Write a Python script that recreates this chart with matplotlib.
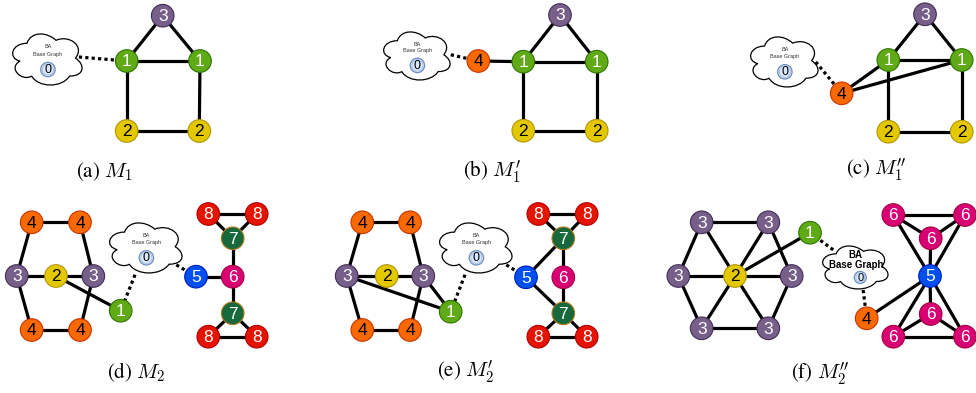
import matplotlib.pyplot as plt
from matplotlib.patches import Circle, PathPatch
from matplotlib.path import Path

plt.rcParams['mathtext.fontset'] = 'cm'

# node colours by label (fill, border)
FILL = {1: '#60a917', 2: '#e3c800', 3: '#76608a', 4: '#fa6800',
        5: '#0050ef', 6: '#d80073', 7: '#17693b', 8: '#e51400'}
EDGE = {1: '#2d7600', 2: '#b09500', 3: '#432d57', 4: '#c73500',
        5: '#001dbc', 6: '#a50040', 7: '#b07a1e', 8: '#b20000'}
DARK_TEXT = {2, 4}

# ---- (a) M1 ----
a_labels = [3, 1, 1, 2, 2]
a_x = [162.7, 126.7, 200.0, 126.7, 199.3]
a_y = [15.7, 61.0, 61.0, 131.0, 131.0]
a_edges = [(0, 1), (0, 2), (1, 2), (1, 3), (2, 4), (3, 4)]
a_cloud = (7.6, 28.4, 77.5, 59.6)
a_links = [(1, 0.92, 0.48)]

# ---- (b) M1' ----
b_labels = [3, 1, 1, 2, 2, 4]
b_x = [560.0, 523.3, 596.7, 523.3, 596.7, 478.3]
b_y = [15.0, 61.7, 61.7, 130.7, 130.7, 61.0]
b_edges = [(0, 1), (0, 2), (1, 2), (1, 3), (2, 4), (3, 4), (5, 1)]
b_cloud = (378.8, 26.7, 74.2, 56.1)
b_links = [(5, 0.97, 0.50)]

# ---- (c) M1'' ----
c_labels = [3, 1, 1, 2, 2, 4]
c_x = [925.0, 888.3, 961.7, 888.3, 961.7, 841.7]
c_y = [14.3, 60.0, 60.0, 131.7, 131.7, 93.3]
c_edges = [(0, 1), (0, 2), (1, 2), (1, 3), (2, 4), (3, 4), (5, 1), (5, 2)]
c_cloud = (745.7, 31.5, 75.3, 58.4)
c_links = [(5, 0.93, 0.52)]

# ---- (d) M2 ----
d_labels = [4, 4, 3, 2, 3, 4, 4, 1, 5, 6, 7, 8, 8, 7, 8, 8]
d_x = [31.7, 80.0, 16.7, 56.0, 93.3, 31.7, 80.0, 120.7,
       196.0, 232.7, 232.7, 208.3, 256.7, 232.7, 208.3, 256.7]
d_y = [222.3, 222.3, 276.0, 276.0, 276.0, 330.0, 330.0, 310.7,
       276.7, 276.7, 238.3, 214.0, 214.0, 313.3, 336.7, 336.7]
d_edges = [(0, 1), (0, 2), (1, 4), (2, 3), (3, 4), (2, 5), (4, 6), (5, 6),
           (3, 7), (8, 9), (9, 10), (9, 13), (10, 11), (10, 12), (11, 12),
           (13, 14), (13, 15), (14, 15)]
d_cloud = (104.3, 217.5, 80.9, 58.4)
d_links = [(7, 0.38, 0.98), (8, 0.89, 0.81)]

# ---- (e) M2' ----
e_labels = [4, 4, 3, 2, 3, 4, 4, 1, 5, 6, 7, 8, 8, 7, 8, 8]
e_x = [362.3, 410.0, 346.7, 386.7, 423.3, 362.3, 410.0, 450.7,
       526.0, 563.3, 563.3, 538.3, 586.7, 563.3, 538.3, 586.7]
e_y = [222.3, 222.3, 276.0, 276.0, 276.0, 330.0, 330.0, 311.7,
       277.3, 277.3, 238.3, 214.0, 214.0, 313.3, 336.7, 336.7]
e_edges = [(0, 1), (0, 2), (1, 4), (2, 3), (3, 4), (2, 5), (4, 6), (5, 6),
           (2, 7), (4, 7), (8, 10), (8, 13), (9, 10), (9, 13), (10, 11),
           (10, 12), (11, 12), (13, 14), (13, 15), (14, 15)]
e_cloud = (434.3, 217.5, 80.9, 58.4)
e_links = [(7, 0.38, 0.98), (8, 0.89, 0.81)]

# ---- (f) M2'' ----
f_labels = [3, 3, 3, 2, 3, 3, 3, 1, 4, 5, 6, 6, 6, 6, 6, 6]
f_x = [701.7, 768.3, 678.3, 735.0, 791.7, 701.7, 768.3, 810.0, 866.7,
       930.0, 893.3, 965.0, 930.7, 930.7, 893.3, 965.0]
f_y = [222.3, 222.3, 276.0, 276.0, 276.0, 328.3, 328.3, 232.7, 318.3,
       276.0, 215.0, 215.0, 238.3, 314.0, 336.7, 336.7]
f_edges = [(0, 1), (1, 4), (4, 6), (6, 5), (5, 2), (2, 0),
           (3, 0), (3, 1), (3, 2), (3, 4), (3, 5), (3, 6), (3, 7), (8, 9),
           (10, 11), (10, 12), (11, 12), (12, 9), (10, 9), (11, 9),
           (9, 13), (9, 14), (9, 15), (14, 13), (15, 13), (14, 15)]
f_cloud = (817.9, 241.3, 73.0, 50.2)
f_links = [(7, 0.21, 0.17), (8, 0.62, 0.97)]

captions = ["(a) $M_1$", "(b) $M_1'$", "(c) $M_1''$",
            "(d) $M_2$", "(e) $M_2'$", "(f) $M_2''$"]
caption_x = [104, 492, 876, 136, 466, 820]
caption_y = [172, 172, 170, 372, 372, 374]

# drawio-style cloud outline in box fractions (y downwards)
CLOUD = [(0.25, 0.25),
         (0.05, 0.25), (0, 0.5), (0.16, 0.55),
         (0, 0.66), (0.18, 0.9), (0.31, 0.8),
         (0.4, 1), (0.7, 1), (0.8, 0.8),
         (1, 0.8), (1, 0.6), (0.875, 0.5),
         (1, 0.3), (0.8, 0.1), (0.625, 0.2),
         (0.5, 0.05), (0.3, 0.05), (0.25, 0.25),
         (0.25, 0.25)]
CODES = [Path.MOVETO] + [Path.CURVE4] * 18 + [Path.CLOSEPOLY]

R = 11.3


def draw_cloud(ax, box, links, xs, ys, bold=False):
    x0, y0, w, h = box
    verts = [(x0 + fx * w, y0 + fy * h) for fx, fy in CLOUD]
    ax.add_patch(PathPatch(Path(verts, CODES), facecolor='white',
                           edgecolor='black', lw=0.9, zorder=2))
    for i, fx, fy in links:
        ax.plot([x0 + fx * w, xs[i]], [y0 + fy * h, ys[i]], color='black',
                lw=2.3, ls=(0, (1, 1)), zorder=1)
    if bold:
        ax.text(x0 + 0.52 * w, y0 + 0.27 * h, 'BA', ha='center', va='center',
                fontsize=7, fontweight='bold', family='Liberation Sans', zorder=3)
        ax.text(x0 + 0.52 * w, y0 + 0.47 * h, 'Base Graph', ha='center',
                va='center', fontsize=7, fontweight='bold',
                family='Liberation Sans', zorder=3)
        zx, zy, zr, zf = x0 + 0.58 * w, y0 + 0.72 * h, 6.0, 8
    else:
        ax.text(x0 + 0.52 * w, y0 + 0.31 * h, 'BA', ha='center', va='center',
                fontsize=4, color='#333333', family='Liberation Sans', zorder=3)
        ax.text(x0 + 0.52 * w, y0 + 0.43 * h, 'Base Graph', ha='center',
                va='center', fontsize=4, color='#333333',
                family='Liberation Sans', zorder=3)
        zx, zy, zr, zf = x0 + 0.52 * w, y0 + 0.69 * h, 7.2, 9
    ax.add_patch(Circle((zx, zy), zr, facecolor='#dae8fc',
                        edgecolor='#6c8ebf', lw=0.9, zorder=3))
    ax.add_patch(Circle((zx, zy), zr - 1.6, facecolor='none',
                        edgecolor='#9fb6da', lw=0.5, zorder=3))
    ax.text(zx, zy + 0.6, '0', ha='center', va='center', fontsize=zf,
            family='Liberation Sans', zorder=4)


def draw_graph(ax, labels, xs, ys, edges):
    for i, j in edges:
        ax.plot([xs[i], xs[j]], [ys[i], ys[j]], color='black', lw=2.3,
                solid_capstyle='butt', zorder=1)
    for lab, x, y in zip(labels, xs, ys):
        ax.add_patch(Circle((x, y), R, facecolor=FILL[lab],
                            edgecolor=EDGE[lab], lw=0.8, zorder=5))
        ax.text(x, y + 0.8, str(lab), ha='center', va='center', fontsize=12.5,
                color='black' if lab in DARK_TEXT else 'white',
                family='Liberation Sans', zorder=6)


fig = plt.figure(figsize=(9.76, 3.93), dpi=100)
ax = fig.add_axes([0, 0, 1, 1])
ax.set_xlim(0, 976)
ax.set_ylim(393, 0)
ax.axis('off')

panels = [
    (a_labels, a_x, a_y, a_edges, a_cloud, a_links, False),
    (b_labels, b_x, b_y, b_edges, b_cloud, b_links, False),
    (c_labels, c_x, c_y, c_edges, c_cloud, c_links, False),
    (d_labels, d_x, d_y, d_edges, d_cloud, d_links, False),
    (e_labels, e_x, e_y, e_edges, e_cloud, e_links, False),
    (f_labels, f_x, f_y, f_edges, f_cloud, f_links, True),
]
for labels, xs, ys, edges, cloud, links, bold in panels:
    draw_graph(ax, labels, xs, ys, edges)
    draw_cloud(ax, cloud, links, xs, ys, bold)

for cap, cx, cy in zip(captions, caption_x, caption_y):
    ax.text(cx, cy, cap, ha='center', va='center', fontsize=15,
            family='STIXGeneral')

fig.savefig('out.png', dpi=100)
